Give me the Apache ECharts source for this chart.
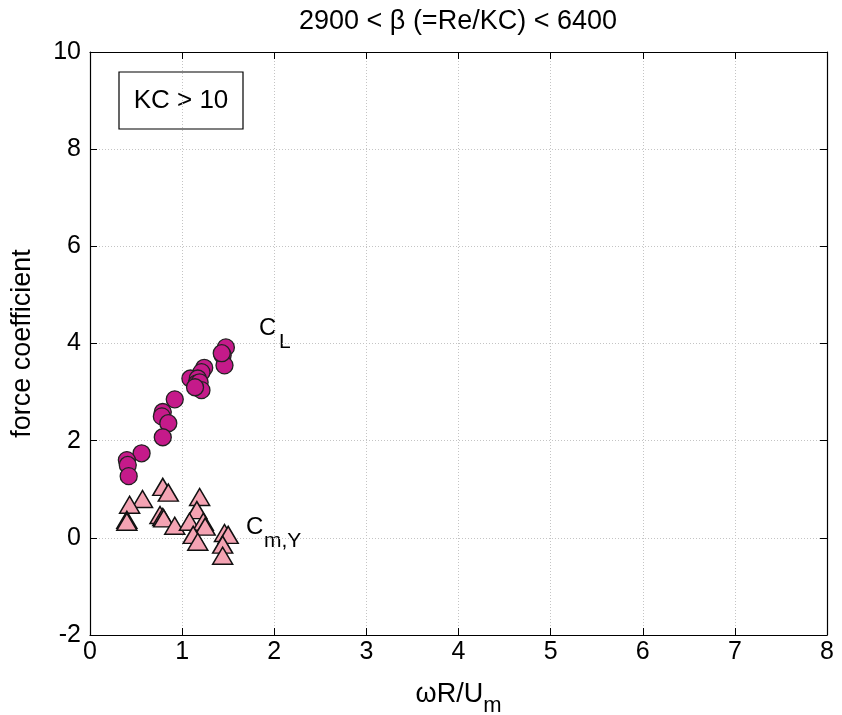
<!DOCTYPE html>
<html><head><meta charset="utf-8">
<script src="https://cdn.jsdelivr.net/npm/echarts@6/dist/echarts.min.js"></script>
<style>html,body{margin:0;padding:0;background:#fff}#c{width:842px;height:715px}</style>
</head><body><div id="c"></div>
<script>
const xTicks = [0,1,2,3,4,5,6,7,8];
const yTicks = [-2,0,2,4,6,8,10];
const clX = [1.475,1.44,1.46,1.43,1.24,1.21,1.09,1.17,1.16,1.19,1.21,1.14,0.92,0.79,0.78,0.85,0.79,0.56,0.40,0.41,0.42];
const clY = [3.92,3.76,3.55,3.80,3.50,3.41,3.28,3.28,3.18,3.20,3.04,3.10,2.85,2.59,2.50,2.36,2.07,1.74,1.60,1.50,1.27];
const cmX = [0.79,0.85,0.57,0.43,0.40,0.40,0.76,0.79,0.80,0.92,1.19,1.16,1.08,1.23,1.25,1.12,1.17,1.46,1.50,1.44,1.44];
const cmY = [1.05,0.93,0.80,0.68,0.37,0.33,0.47,0.43,0.40,0.25,0.84,0.57,0.33,0.33,0.23,0.06,-0.08,0.10,0.06,-0.14,-0.37];
const FONT = '"Liberation Sans", Arial, sans-serif';
const chart = echarts.init(document.getElementById('c'));
const zip = (a,b)=>a.map((v,i)=>[v,b[i]]);
const split = {show:true,lineStyle:{color:'#c4c4c4',type:[1,2],width:1}};
const line = {show:true,onZero:false,lineStyle:{color:'#000',width:1.2}};
const tick = {show:true,inside:true,length:7,lineStyle:{color:'#000'}};
chart.setOption({
  animation:false,
  grid:{left:90,right:15,top:52,bottom:80,show:false,outerBoundsMode:'none',containLabel:false},
  xAxis:[{type:'value',min:0,max:8,interval:1,
    name:'{a|ωR/U}{s|m}',nameLocation:'middle',nameGap:38,
    nameTextStyle:{rich:{a:{fontFamily:FONT,fontSize:27,color:'#000'},s:{fontFamily:FONT,fontSize:22,color:'#000',padding:[22,0,0,0]}}},
    axisLine:line,axisTick:tick,
    axisLabel:{fontFamily:FONT,fontSize:25,color:'#000',margin:5},
    splitLine:split},
    {type:'value',min:0,max:8,interval:1,position:'top',axisLine:line,axisTick:tick,axisLabel:{show:false},splitLine:{show:false}}],
  yAxis:[{type:'value',min:-2,max:10,interval:2,
    name:'force coefficient',nameLocation:'middle',nameGap:54,
    nameTextStyle:{fontFamily:FONT,fontSize:27,color:'#000'},
    axisLine:line,axisTick:tick,
    axisLabel:{fontFamily:FONT,fontSize:25,color:'#000',margin:9},
    splitLine:split},
    {type:'value',min:-2,max:10,interval:2,position:'right',axisLine:line,axisTick:tick,axisLabel:{show:false},splitLine:{show:false}}],
  series:[
    {type:'scatter',data:zip(cmX,cmY),symbol:'triangle',symbolSize:[20,17],
      itemStyle:{color:'#f4a3b3',borderColor:'#111',borderWidth:1.5,opacity:1}},
    {type:'scatter',data:zip(clX,clY),symbol:'circle',symbolSize:17,
      itemStyle:{color:'#c51a8a',borderColor:'#222',borderWidth:1.3,opacity:1}}
  ],
  graphic:[
    {type:'text',x:458,y:22,style:{text:'2900 < β (=Re/KC) < 6400',font:'27px '+FONT,fill:'#000',align:'center',verticalAlign:'middle'}},
    {type:'rect',shape:{x:119,y:72,width:124,height:57},style:{fill:'#fff',stroke:'#000',lineWidth:1.2}},
    {type:'text',x:181,y:101,style:{text:'KC > 10',font:'26px '+FONT,fill:'#000',align:'center',verticalAlign:'middle'}},
    {type:'text',x:259,y:328,style:{text:'C',font:'24px '+FONT,fill:'#000',verticalAlign:'middle'}},
    {type:'text',x:279,y:342,style:{text:'L',font:'21px '+FONT,fill:'#000',verticalAlign:'middle'}},
    {type:'text',x:246,y:527,style:{text:'C',font:'24px '+FONT,fill:'#000',verticalAlign:'middle'}},
    {type:'text',x:264,y:541,style:{text:'m,Y',font:'21px '+FONT,fill:'#000',verticalAlign:'middle'}}
  ]
});
</script></body></html>
